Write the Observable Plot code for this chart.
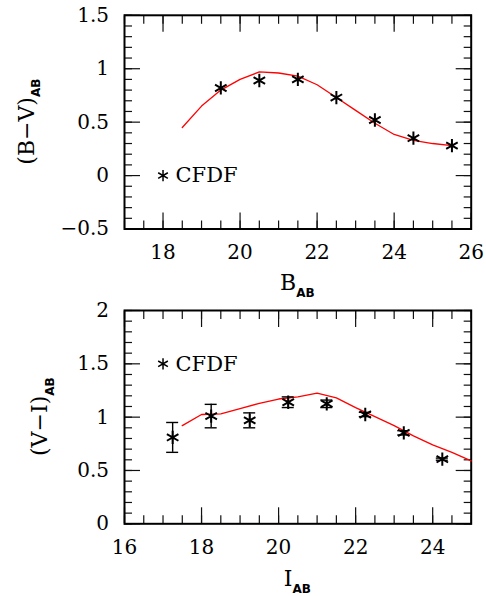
<!DOCTYPE html>
<html><head><meta charset="utf-8">
<script src="https://cdn.jsdelivr.net/npm/d3@7"></script>
<script src="https://cdn.jsdelivr.net/npm/@observablehq/plot@0.6"></script>
<style>
html,body{margin:0;padding:0;background:#fff;}
#chart svg{display:block;}
</style>
</head><body><div id="chart"></div>
<script>
// ---------- data ----------
// top panel: (B-V)_AB vs B_AB
const bvMag = [19.5, 20.5, 21.5, 22.5, 23.5, 24.5, 25.5];
const bvColor = [0.82, 0.89, 0.90, 0.73, 0.52, 0.35, 0.28];
const bvModelMag = [18.5, 19, 19.5, 20, 20.5, 21, 21.5, 22, 22.5, 23, 23.5, 24, 24.5, 25, 25.5];
const bvModelColor = [0.45, 0.65, 0.80, 0.90, 0.97, 0.96, 0.93, 0.85, 0.73, 0.61, 0.49, 0.385, 0.33, 0.30, 0.28];
// bottom panel: (V-I)_AB vs I_AB
const viMag = [17.25, 18.25, 19.25, 20.25, 21.25, 22.25, 23.25, 24.25];
const viColor = [0.81, 1.01, 0.97, 1.14, 1.125, 1.025, 0.853, 0.606];
const viErr = [0.14, 0.11, 0.07, 0.05, 0.035, 0.02, 0.02, 0.01];
const viModelMag = [17.5, 18, 18.5, 19, 19.5, 20, 20.5, 21, 21.5, 22, 22.5, 23, 23.5, 24, 24.5, 25];
const viModelColor = [0.92, 1.025, 1.03, 1.08, 1.13, 1.17, 1.19, 1.225, 1.18, 1.09, 1.005, 0.92, 0.825, 0.74, 0.67, 0.59];
// ticks
const topXMajor = [18, 20, 22, 24, 26];
const topYMajor = [-0.5, 0, 0.5, 1, 1.5];
const botXMajor = [16, 18, 20, 22, 24];
const botYMajor = [0, 0.5, 1, 1.5, 2];
const legendLabel = "CFDF";

// ---------- helpers ----------
const W = 486;
const serif = "DejaVu Serif";
const fmt = d => d < 0 ? "\u2212" + Math.abs(d) : String(d);
const rng = (a, b, s) => d3.range(Math.round((b - a) / s) + 1).map(i => +(a + i * s).toFixed(4));

function panel(o) {
  const fh = o.height - o.marginTop - o.marginBottom;
  const fw = W - o.marginLeft - o.marginRight;
  const xMinor = rng(o.xDomain[0], o.xDomain[1], 0.5);
  const yMinor = rng(o.yDomain[0], o.yDomain[1], 0.1);
  const MAJ = 16, MIN = 8;
  const tk = {stroke: "#111", strokeWidth: 1.2, fill: "none", label: null};
  const pts = o.mag.map((m, i) => ({mag: m, c: o.col[i], e: o.err ? o.err[i] : 0}));
  const model = o.mMag.map((m, i) => ({mag: m, c: o.mCol[i]}));
  // inward ticks on all four sides, drawn with Plot's own axis tick marks shifted inside the frame
  const xTicks = (arr, L) => [
    Plot.axisX(arr, {...tk, anchor: "bottom", tickSize: L, dy: -L}),
    Plot.axisX(arr, {...tk, anchor: "top", tickSize: L, dy: L})
  ];
  const yTicks = (arr, L) => [
    Plot.axisY(arr, {...tk, anchor: "left", tickSize: L, dx: L}),
    Plot.axisY(arr, {...tk, anchor: "right", tickSize: L, dx: -L})
  ];
  const marks = [
    ...xTicks(xMinor, MIN), ...xTicks(o.xMajor, MAJ),
    ...yTicks(yMinor, MIN), ...yTicks(o.yMajor, MAJ),
    Plot.axisX(o.xMajor, {anchor: "bottom", tickSize: 0, tickPadding: 15.5, label: null, fontSize: 20, fontFamily: serif}),
    Plot.axisY(o.yMajor, {anchor: "left", tickSize: 0, tickPadding: 15.5, label: null, tickFormat: fmt, fontSize: 20, fontFamily: serif}),
    Plot.frame({stroke: "black", strokeWidth: 2, fill: "none"}),
    Plot.line(model, {x: "mag", y: "c", stroke: "#ff0000", strokeWidth: 1.3})
  ];
  if (o.err) {
    marks.push(
      Plot.ruleX(pts, {x: "mag", y1: d => d.c - d.e, y2: d => d.c + d.e, stroke: "black", strokeWidth: 1.4}),
      Plot.ruleY(pts, {y: d => d.c - d.e, x1: "mag", x2: "mag", insetLeft: -6, insetRight: -6, stroke: "black", strokeWidth: 1.4}),
      Plot.ruleY(pts, {y: d => d.c + d.e, x1: "mag", x2: "mag", insetLeft: -6, insetRight: -6, stroke: "black", strokeWidth: 1.4})
    );
  }
  marks.push(
    Plot.dot(pts, {x: "mag", y: "c", symbol: "asterisk", r: 6.3, stroke: "black", strokeWidth: 2}),
    Plot.dot([o.legend], {x: "x", y: "y", symbol: "asterisk", r: 5.3, stroke: "black", strokeWidth: 1.5}),
    Plot.text([o.legend], {x: "x", y: "y", text: () => legendLabel, dx: 12.5, textAnchor: "start", lineAnchor: "middle", fontSize: 21, fontFamily: serif, fill: "black"})
  );
  const p = Plot.plot({
    width: W, height: o.height,
    marginLeft: o.marginLeft, marginRight: o.marginRight, marginTop: o.marginTop, marginBottom: o.marginBottom,
    x: {domain: o.xDomain},
    y: {domain: o.yDomain},
    style: {background: "white", color: "black", fontFamily: serif, fontSize: "20px"},
    marks
  });
  // axis titles with subscripts
  const svg = d3.select(p);
  const cx = o.marginLeft + fw / 2;
  const cy = o.marginTop + fh / 2;
  const xt = svg.append("text").attr("x", cx).attr("y", o.xLabelY).attr("text-anchor", "middle")
    .attr("font-family", serif).attr("font-size", 22).attr("fill", "black");
  xt.append("tspan").text(o.xLabel[0]);
  xt.append("tspan").attr("dy", 6.5).attr("font-family", "DejaVu Sans").attr("font-weight", "bold").attr("font-size", 12).text(o.xLabel[1]);
  const yt = svg.append("text").attr("transform", `translate(${o.yLabelX},${cy}) rotate(-90)`).attr("text-anchor", "middle")
    .attr("font-family", serif).attr("font-size", 22).attr("fill", "black");
  yt.append("tspan").text(o.yLabel[0]);
  yt.append("tspan").attr("dy", 6.5).attr("font-family", "DejaVu Sans").attr("font-weight", "bold").attr("font-size", 12).text(o.yLabel[1]);
  return p;
}

const chart = document.getElementById("chart");
chart.append(panel({
  height: 298, marginLeft: 124, marginRight: 15.3, marginTop: 14.8, marginBottom: 69.5,
  xDomain: [17, 26], yDomain: [-0.5, 1.5], xMajor: topXMajor, yMajor: topYMajor,
  mag: bvMag, col: bvColor, mMag: bvModelMag, mCol: bvModelColor,
  legend: {x: 18, y: 0},
  xLabel: ["B", "AB"], xLabelY: 290, yLabel: ["(B\u2212V)", "AB"], yLabelX: 33.5
}));
chart.append(panel({
  height: 298, marginLeft: 124, marginRight: 15.3, marginTop: 12, marginBottom: 72.7,
  xDomain: [16, 25], yDomain: [0, 2], xMajor: botXMajor, yMajor: botYMajor,
  mag: viMag, col: viColor, err: viErr, mMag: viModelMag, mCol: viModelColor,
  legend: {x: 17, y: 1.5},
  xLabel: ["I", "AB"], xLabelY: 288, yLabel: ["(V\u2212I)", "AB"], yLabelX: 47
}));
</script>
</body></html>
